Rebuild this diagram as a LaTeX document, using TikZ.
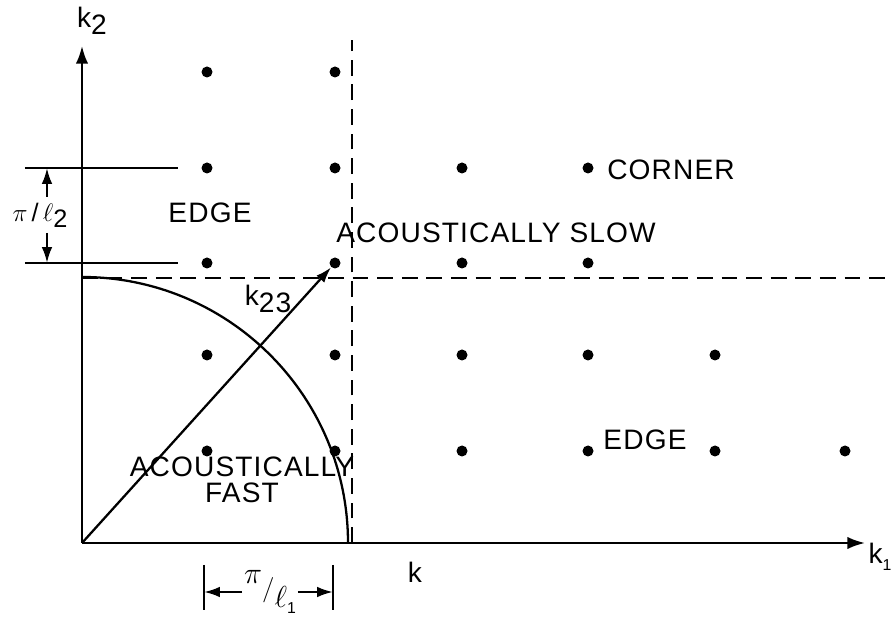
\documentclass[tikz,border=0pt]{standalone}
\usepackage{fontspec}
\setmainfont[LetterSpace=4]{Liberation Sans}
\usetikzlibrary{arrows.meta,calc,positioning}
\newcommand{\lowsub}[1]{\raisebox{-0.45ex}{#1}}

\begin{document}
\begin{tikzpicture}[x=0.02cm,y=0.02cm,
    every node/.style={font=\fontsize{16}{18}\selectfont},
    dot/.style={circle,fill=black,inner sep=0pt,minimum size=0.22cm},
    line/.style={line width=1.3pt},
    dashline/.style={line width=1.2pt,dash pattern=on 9pt off 5pt},
    axis/.style={line width=1.3pt,-{Latex[length=10pt,width=7pt]}},
    dimarrow/.style={line width=1.3pt,-{Latex[length=9pt,width=6pt]}}]
        \useasboundingbox (-82,-81) rectangle (809,543);
        \coordinate (o) at (0,0);
        \coordinate (xend) at (783,0);
        \coordinate (yend) at (0,497);
        %Axis
        \draw[axis] (o) -- (xend);
        \draw[axis] (o) -- (yend);
        \node (k1) at (798,-14) {k\lowsub{\small 1}};
        \node (k2) at (10,522) {k\lowsub{2}};
        %Boundaries
        \draw[dashline] (270,0) -- (270,503);
        \draw[dashline] (0,265) -- (809,265);
        \draw[line] (266,0) arc (0:90:266);
        %Modes
        \node[dot] (d11) at (125,471) {};
        \node[dot] (d12) at (253,471) {};
        \node[dot] (d21) at (125,375) {};
        \node[dot] (d22) at (253,375) {};
        \node[dot] (d23) at (380,375) {};
        \node[dot] (d24) at (506,375) {};
        \node[dot] (d31) at (125,280) {};
        \node[dot] (d32) at (253,280) {};
        \node[dot] (d33) at (380,280) {};
        \node[dot] (d34) at (506,280) {};
        \node[dot] (d41) at (125,188) {};
        \node[dot] (d42) at (253,188) {};
        \node[dot] (d43) at (380,188) {};
        \node[dot] (d44) at (506,188) {};
        \node[dot] (d45) at (633,188) {};
        \node[dot] (d51) at (125,92) {};
        \node[dot] (d52) at (253,92) {};
        \node[dot] (d53) at (380,92) {};
        \node[dot] (d54) at (506,92) {};
        \node[dot] (d55) at (633,92) {};
        \node[dot] (d56) at (763,92) {};
        %Wavenumber vector
        \draw[dimarrow] (o) -- (d32);
        \node (k23) at (186,244) {k\lowsub{23}};
        %Dimension pi/l2
        \coordinate (t2a) at (-57,375);
        \coordinate (t2b) at (-57,280);
        \draw[line] (t2a) -- (96,375);
        \draw[line] (t2b) -- (96,280);
        \node (pl2) at (-42,328) {\Large$\pi$\,/\,$\ell$\lowsub{2}};
        \draw[dimarrow] (-35,346) -- (-35,375);
        \draw[dimarrow] (-35,310) -- (-35,280);
        %Dimension pi/l1
        \coordinate (t1a) at (122,-49);
        \coordinate (t1b) at (251,-49);
        \draw[line] (122,-22) -- (122,-67);
        \draw[line] (251,-22) -- (251,-67);
        \node[inner sep=1pt] (pl1) at (188,-49) {\raisebox{0.9ex}{$\pi$}{\Large$/$}\raisebox{-0.7ex}{$\ell$\lowsub{\small 1}}};
        \draw[dimarrow] (pl1.west) -- (t1a);
        \draw[dimarrow] (pl1.east) -- (t1b);
        \node (k) at (333,-29) {k};
        %Region labels
        \node (edge1) at (128,330) {EDGE};
        \node (slow) at (414,310) {ACOUSTICALLY SLOW};
        \node (corner) at (589,373) {CORNER};
        \node (edge2) at (563,103) {EDGE};
        \node[align=center,inner sep=1pt] (fast) at (160,63) {ACOUSTICALLY\\[-3pt]FAST};
\end{tikzpicture}
\end{document}
